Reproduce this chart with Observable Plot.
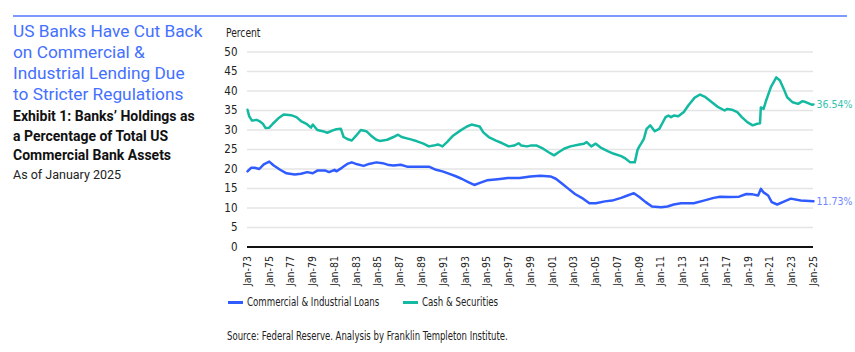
<!DOCTYPE html>
<html>
<head>
<meta charset="utf-8">
<script src="https://cdn.jsdelivr.net/npm/d3@7"></script>
<script src="https://cdn.jsdelivr.net/npm/@observablehq/plot@0.6"></script>
<style>
  html, body { margin: 0; padding: 0; background: #fff; }
  #page { position: relative; width: 855px; height: 352px; overflow: hidden; font-family: Roboto, "Noto Sans", sans-serif; }
  #rule { position: absolute; left: 13px; top: 15px; width: 834px; height: 1.5px; background: #7d98ff; }
  #title { position: absolute; left: 13px; top: 21px; font-size: 17.3px; line-height: 21px; color: #4470ff; font-weight: 400; }
  #subtitle { position: absolute; left: 13px; top: 107px; font-size: 14px; line-height: 19.5px; color: #111; font-weight: 700; }
  #asof { position: absolute; left: 13px; top: 167px; font-size: 12.5px; color: #222; }
  .narrow { font-family: "Liberation Sans Narrow", "DejaVu Sans Condensed", sans-serif; color: #222; white-space: nowrap; transform-origin: 0 50%; }
  #percent { position: absolute; left: 226px; top: 26px; font-size: 12px; transform: scaleX(0.85); }
  #chart { position: absolute; left: 200px; top: 20px; }
  .leg { position: absolute; top: 294px; height: 16px; display: flex; align-items: center; }
  .sw { position: absolute; top: 301px; width: 15px; height: 2.5px; }
  #source { position: absolute; left: 227px; top: 329px; font-size: 12px; transform: scaleX(0.79); }
</style>
</head>
<body>
<div id="page">
  <div id="rule"></div>
  <div id="title">US Banks Have Cut Back<br>on Commercial &amp;<br>Industrial Lending Due<br>to Stricter Regulations</div>
  <div id="subtitle">Exhibit 1: Banks’ Holdings as<br>a Percentage of Total US<br>Commercial Bank Assets</div>
  <div id="asof">As of January 2025</div>
  <div id="percent" class="narrow">Percent</div>
  <div id="chart"></div>
  <div id="source" class="narrow">Source: Federal Reserve. Analysis by Franklin Templeton Institute.</div>
</div>
<script>
// ---- Data ----
const seriesNames = ["Commercial & Industrial Loans", "Cash & Securities"];
const seriesColors = ["#2f5bff", "#14b9a1"];
const labelColors = ["#6f86ff", "#35c2ae"];

const loanYears = [1973.0,1973.3,1973.7,1974.1,1974.5,1975.0,1975.4,1976.0,1976.6,1977.3,1977.9,1978.5,1979.0,1979.4,1980.2,1980.5,1981.0,1981.2,1981.7,1982.2,1982.6,1983.1,1983.7,1984.2,1984.8,1985.4,1986.0,1986.4,1987.1,1987.7,1988.3,1989.1,1989.7,1990.3,1990.9,1991.5,1992.1,1992.7,1993.3,1993.8,1994.4,1995.0,1996.0,1996.9,1998.0,1999.0,1999.9,2000.8,2001.3,2001.9,2002.5,2003.1,2003.8,2004.4,2005.0,2005.8,2006.5,2007.3,2007.9,2008.5,2009.0,2009.6,2010.2,2011.0,2011.6,2012.2,2012.8,2014.0,2014.9,2015.8,2016.4,2017.3,2018.2,2018.8,2019.4,2019.9,2020.2,2020.4,2020.8,2021.2,2021.7,2022.3,2022.9,2023.8,2025.0];
const loanValues = [19.4,20.3,20.3,20.0,21.2,21.9,20.9,19.8,18.9,18.6,18.8,19.2,18.9,19.6,19.6,19.2,19.8,19.4,20.3,21.3,21.7,21.2,20.8,21.3,21.7,21.5,21.0,20.9,21.1,20.6,20.6,20.6,20.6,19.8,19.4,18.8,18.2,17.5,16.6,15.9,16.5,17.1,17.4,17.7,17.7,18.1,18.3,18.1,17.5,16.2,14.9,13.6,12.4,11.2,11.2,11.7,11.9,12.6,13.2,13.8,12.8,11.5,10.4,10.2,10.4,10.9,11.2,11.2,11.9,12.6,12.9,12.8,12.9,13.6,13.5,13.2,14.9,14.0,13.2,11.5,10.9,11.7,12.4,11.9,11.73];

const cashYears = [1973.0,1973.2,1973.4,1973.8,1974.1,1974.4,1974.7,1975.0,1975.3,1975.8,1976.3,1977.0,1977.5,1977.9,1978.4,1978.8,1979.0,1979.4,1979.9,1980.3,1980.8,1981.2,1981.6,1981.8,1982.2,1982.6,1983.0,1983.4,1983.9,1984.3,1984.8,1985.2,1985.8,1986.4,1986.8,1987.2,1988.0,1988.6,1989.2,1989.7,1990.1,1990.5,1990.9,1991.3,1991.9,1992.6,1993.2,1993.6,1994.3,1994.7,1995.2,1995.8,1996.4,1997.0,1997.5,1997.9,1998.2,1998.7,1999.0,1999.6,2000.2,2000.7,2001.2,2001.6,2002.1,2002.7,2003.5,2003.9,2004.2,2004.6,2005.0,2005.5,2006.1,2006.7,2007.3,2007.7,2008.2,2008.6,2008.8,2009.0,2009.2,2009.4,2009.7,2010.0,2010.4,2010.8,2011.1,2011.4,2011.7,2011.9,2012.2,2012.6,2013.1,2013.5,2014.1,2014.6,2015.1,2015.7,2016.2,2016.8,2017.1,2017.5,2018.0,2018.4,2018.9,2019.4,2019.8,2020.1,2020.2,2020.4,2020.7,2021.1,2021.6,2021.9,2022.3,2022.6,2023.1,2023.6,2024.0,2024.3,2024.8,2025.0];
const cashValues = [35.2,33.5,32.4,32.6,32.3,31.6,30.5,30.6,31.6,33.0,34.0,33.8,33.3,32.3,31.6,30.6,31.4,30.0,29.7,29.3,29.9,30.2,30.3,28.2,27.7,27.3,28.6,30.0,29.7,28.6,27.5,27.2,27.5,28.2,28.8,28.2,27.6,27.1,26.5,25.8,26.0,26.3,25.8,26.9,28.6,29.9,30.9,31.4,30.9,29.4,28.2,27.3,26.6,25.8,26.0,26.6,26.0,25.8,26.0,26.0,25.2,24.3,23.5,24.3,25.2,25.8,26.3,26.5,26.9,25.8,26.5,25.4,24.6,23.9,23.3,22.8,21.7,21.7,24.9,25.8,26.5,27.7,30.3,31.2,29.7,30.3,31.6,33.3,33.7,33.3,33.7,33.5,34.6,36.3,38.3,39.1,38.4,37.1,36.0,35.0,35.4,35.2,34.6,33.3,32.0,31.2,31.6,31.7,35.8,35.4,37.7,41.0,43.5,42.7,40.1,38.4,37.1,36.7,37.4,37.1,36.5,36.54];

const endLabels = ["11.73%", "36.54%"];
const yTicks = [0,5,10,15,20,25,30,35,40,45,50];
const xTickYears = [1973,1975,1977,1979,1981,1983,1985,1987,1989,1991,1993,1995,1997,1999,2001,2003,2005,2007,2009,2011,2013,2015,2017,2019,2021,2023,2025];

// ---- Build table ----
const toDate = y => { const yr = Math.floor(y + 1e-9); const m = Math.round((y - yr) * 12); return new Date(Date.UTC(yr, m, 1)); };
const rows = [];
loanYears.forEach((y, i) => rows.push({date: toDate(y), value: loanValues[i], series: seriesNames[0]}));
cashYears.forEach((y, i) => rows.push({date: toDate(y), value: cashValues[i], series: seriesNames[1]}));
const lastRows = [
  {date: toDate(loanYears[loanYears.length - 1]), value: loanValues[loanValues.length - 1], label: endLabels[0], color: labelColors[0]},
  {date: toDate(cashYears[cashYears.length - 1]), value: cashValues[cashValues.length - 1], label: endLabels[1], color: labelColors[1]}
];
const xTicks = xTickYears.map(y => new Date(Date.UTC(y, 0, 1)));
const fmt = d => "Jan-" + String(d.getUTCFullYear() % 100).padStart(2, "0");

const narrow = "'Liberation Sans Narrow', 'DejaVu Sans Condensed', sans-serif";

const chart = Plot.plot({
  width: 655,
  height: 280,
  marginLeft: 47,
  marginRight: 42,
  marginTop: 31.5,
  marginBottom: 53.5,
  style: {fontFamily: narrow, fontSize: "11px", color: "#222", background: "transparent", overflow: "visible"},
  x: {type: "utc", domain: [xTicks[0], xTicks[xTicks.length - 1]]},
  y: {domain: [0, 50]},
  color: {domain: seriesNames, range: seriesColors},
  marks: [
    Plot.gridY(yTicks.filter(d => d > 0), {stroke: "#e4e4e4", strokeOpacity: 1, strokeWidth: 1.5}),
    Plot.axisY(yTicks, {tickSize: 0, tickPadding: 10, label: null, fontSize: 11.5, letterSpacing: "-0.3px"}),
    Plot.axisX(xTicks, {tickSize: 0, tickPadding: 9, tickRotate: -90, tickFormat: fmt, label: null, fontSize: 10.5, letterSpacing: "-0.4px"}),
    Plot.ruleY([0], {stroke: "#111", strokeWidth: 2}),
    Plot.line(rows, {x: "date", y: "value", z: "series", stroke: "series", strokeWidth: 2.5, curve: "linear"}),
    Plot.text(lastRows, {x: "date", y: "value", text: "label", fill: "color", dx: 3, textAnchor: "start", fontSize: 10.5, letterSpacing: "-0.7px"})
  ]
});
document.getElementById("chart").appendChild(chart);

// ---- Legend ----
const page = document.getElementById("page");
const legendSwatchX = [228, 403];
const legendScale = [0.8, 0.8];
seriesNames.forEach((name, i) => {
  const sw = document.createElement("div");
  sw.className = "sw";
  sw.style.left = legendSwatchX[i] + "px";
  sw.style.background = seriesColors[i];
  page.appendChild(sw);
  const t = document.createElement("div");
  t.className = "leg narrow";
  t.style.left = (legendSwatchX[i] + 19) + "px";
  t.style.fontSize = "12px";
  t.style.transform = "scaleX(" + legendScale[i] + ")";
  t.textContent = name;
  page.appendChild(t);
});
</script>
</body>
</html>
